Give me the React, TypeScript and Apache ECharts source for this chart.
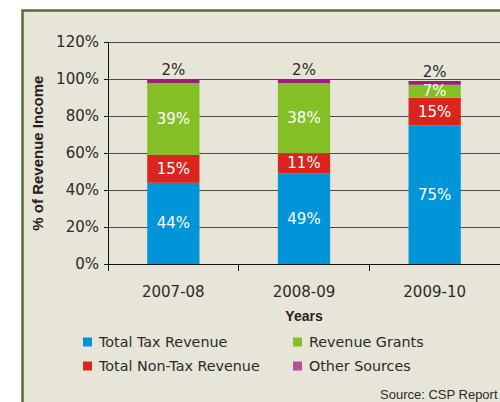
import React, { useEffect, useRef } from "react";
import * as echarts from "echarts";

const categories = ["2007-08", "2008-09", "2009-10"];
const totalTax = [44, 49, 75];
const nonTax = [15, 11, 15];
const grants = [39, 38, 7];
const other = [2, 2, 2];
const yTicks = [0, 20, 40, 60, 80, 100, 120];

const FONT = "DejaVu Sans";
const BOLD = "Liberation Sans";

export default function App() {
  const ref = useRef<HTMLDivElement>(null);
  useEffect(() => {
    if (!ref.current) return;
    const chart = echarts.init(ref.current, undefined, { renderer: "svg" });
    const inside = {
      show: true,
      position: "inside",
      color: "#ffffff",
      fontFamily: FONT,
      fontSize: 15,
      formatter: "{c}%",
    };
    const legendText = {
      fontFamily: FONT,
      fontSize: 14.3,
      color: "#2a2a2a",
      lineHeight: 16,
      padding: [0, 0, 0, 2],
    };
    chart.setOption({
      animation: false,
      backgroundColor: "#ffffff",
      graphic: [
        {
          type: "rect",
          z: -10,
          shape: { x: 22.5, y: 10.5, width: 600, height: 500 },
          style: { fill: "#e6e5d7", stroke: "#5a6a3a", lineWidth: 2.5 },
        },
        {
          type: "text",
          left: 380,
          top: 388,
          style: {
            text: "Source: CSP Report",
            fontFamily: BOLD,
            fontSize: 13,
            fill: "#2a2a2a",
          },
        },
      ],
      grid: { left: 108, top: 42.3, width: 394.5, height: 221.7 },
      legend: [
        {
          orient: "vertical",
          left: 83,
          top: 334,
          padding: 0,
          itemWidth: 9,
          itemHeight: 9,
          itemGap: 8,
          icon: "rect",
          textStyle: legendText,
          data: ["Total Tax Revenue", "Total Non-Tax Revenue"],
        },
        {
          orient: "vertical",
          left: 293,
          top: 334,
          padding: 0,
          itemWidth: 9,
          itemHeight: 9,
          itemGap: 8,
          icon: "rect",
          textStyle: legendText,
          data: [
            "Revenue Grants",
            { name: "Other Sources", itemStyle: { color: "#b84f98" } },
          ],
        },
      ],
      xAxis: {
        type: "category",
        data: categories,
        name: "Years",
        nameLocation: "middle",
        nameGap: 45,
        nameTextStyle: {
          fontFamily: BOLD,
          fontWeight: "bold",
          fontSize: 14,
          color: "#222",
        },
        axisLine: { show: true, lineStyle: { color: "#111", width: 1 } },
        axisTick: {
          show: true,
          length: 7,
          alignWithLabel: false,
          lineStyle: { color: "#111" },
        },
        axisLabel: {
          margin: 20,
          fontFamily: FONT,
          fontSize: 15,
          color: "#2a2a2a",
        },
      },
      yAxis: {
        type: "value",
        min: yTicks[0],
        max: yTicks[yTicks.length - 1],
        interval: 20,
        name: "% of Revenue Income",
        nameLocation: "middle",
        nameGap: 50,
        nameTextStyle: {
          fontFamily: BOLD,
          fontWeight: "bold",
          fontSize: 15,
          color: "#222",
        },
        axisLine: { show: true, lineStyle: { color: "#111", width: 1 } },
        axisTick: { show: true, length: 4, lineStyle: { color: "#111" } },
        axisLabel: {
          margin: 9,
          fontFamily: FONT,
          fontSize: 15,
          color: "#2a2a2a",
          formatter: "{value}%",
        },
        splitLine: { show: true, lineStyle: { color: "#4a4a4a", width: 1 } },
      },
      series: [
        {
          name: "Total Tax Revenue",
          type: "bar",
          stack: "a",
          barWidth: "40%",
          itemStyle: { color: "#0094d9" },
          label: inside,
          data: totalTax,
        },
        {
          name: "Total Non-Tax Revenue",
          type: "bar",
          stack: "a",
          itemStyle: { color: "#d9251d" },
          label: inside,
          data: nonTax,
        },
        {
          name: "Revenue Grants",
          type: "bar",
          stack: "a",
          itemStyle: { color: "#85bf26" },
          label: inside,
          data: grants,
        },
        {
          name: "Other Sources",
          type: "bar",
          stack: "a",
          itemStyle: { color: "#9a1f7a" },
          label: {
            show: true,
            position: "top",
            distance: 2,
            color: "#2a2a2a",
            fontFamily: FONT,
            fontSize: 15,
            formatter: "{c}%",
          },
          data: other,
        },
      ],
    });
    return () => chart.dispose();
  }, []);
  return (
    <div
      ref={ref}
      style={{ position: "absolute", left: 0, top: 0, width: 500, height: 402 }}
    />
  );
}
